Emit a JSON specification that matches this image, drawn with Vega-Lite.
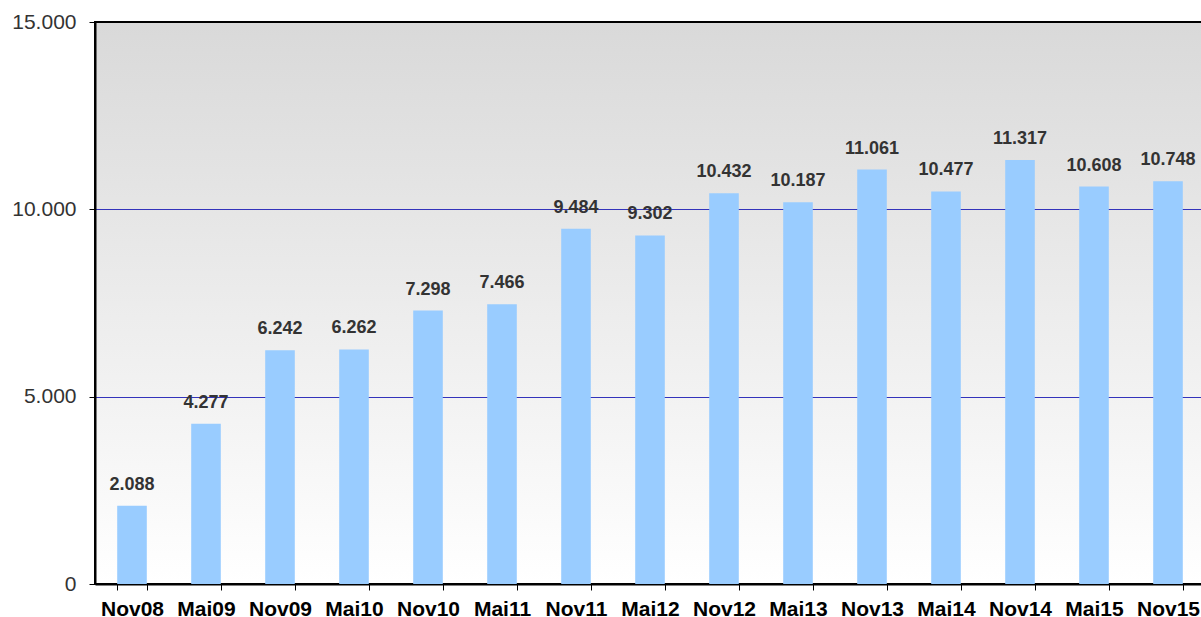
{
  "$schema": "https://vega.github.io/schema/vega-lite/v6.json",
  "width": 1110,
  "height": 562,
  "autosize": {"type": "none"},
  "padding": {"left": 95, "top": 22, "right": 0, "bottom": 33},
  "background": "white",
  "config": {
    "locale": {"number": {"decimal": ",", "thousands": ".", "grouping": [3], "currency": ["", " €"]}},
    "font": "Liberation Sans",
    "view": {
      "stroke": "#000000",
      "strokeWidth": 2,
      "fill": {"gradient": "linear", "x1": 0, "y1": 0, "x2": 0, "y2": 1, "stops": [{"offset": 0, "color": "#d9d9d9"}, {"offset": 1, "color": "#ffffff"}]}
    }
  },
  "data": {"values": [
    {"period": "Nov08", "value": 2088},
    {"period": "Mai09", "value": 4277},
    {"period": "Nov09", "value": 6242},
    {"period": "Mai10", "value": 6262},
    {"period": "Nov10", "value": 7298},
    {"period": "Mai11", "value": 7466},
    {"period": "Nov11", "value": 9484},
    {"period": "Mai12", "value": 9302},
    {"period": "Nov12", "value": 10432},
    {"period": "Mai13", "value": 10187},
    {"period": "Nov13", "value": 11061},
    {"period": "Mai14", "value": 10477},
    {"period": "Nov14", "value": 11317},
    {"period": "Mai15", "value": 10608},
    {"period": "Nov15", "value": 10748}
  ]},
  "layer": [
    {
      "mark": {"type": "bar", "color": "#99ccff"},
      "encoding": {
        "x": {
          "field": "period", "type": "nominal", "sort": null,
          "scale": {"paddingInner": 0.6, "paddingOuter": 0.3},
          "axis": {
            "title": null, "labelAngle": 0, "labelFont": "Liberation Sans", "labelFontSize": 21, "labelFontWeight": "bold",
            "labelColor": "#000000", "labelPadding": 8, "tickBand": "extent", "tickSize": 6, "tickColor": "#000000", "tickWidth": 1,
            "domainColor": "#000000", "domainWidth": 2, "grid": false
          }
        },
        "y": {
          "field": "value", "type": "quantitative",
          "scale": {"domain": [0, 15000], "nice": false},
          "axis": {
            "title": null, "values": [0, 5000, 10000, 15000], "format": ",d",
            "labelFont": "Liberation Sans", "labelFontSize": 21, "labelColor": "#333333", "labelPadding": 13,
            "tickSize": 6, "tickColor": "#000000", "tickWidth": 1, "domainColor": "#000000", "domainWidth": 2,
            "grid": true, "gridColor": "#3333bb", "gridOpacity": 1, "gridWidth": 1
          }
        }
      }
    },
    {
      "mark": {"type": "text", "baseline": "alphabetic", "dy": -16, "fontSize": 18, "fontWeight": "bold", "color": "#333333", "font": "Liberation Sans"},
      "encoding": {
        "x": {"field": "period", "type": "nominal", "sort": null},
        "y": {"field": "value", "type": "quantitative"},
        "text": {"field": "value", "type": "quantitative", "format": ",d"}
      }
    },
    {
      "data": {"values": [{"top": 15000}]},
      "mark": {"type": "rule", "color": "#000000", "strokeWidth": 2},
      "encoding": {"y": {"field": "top", "type": "quantitative"}}
    }
  ]
}
